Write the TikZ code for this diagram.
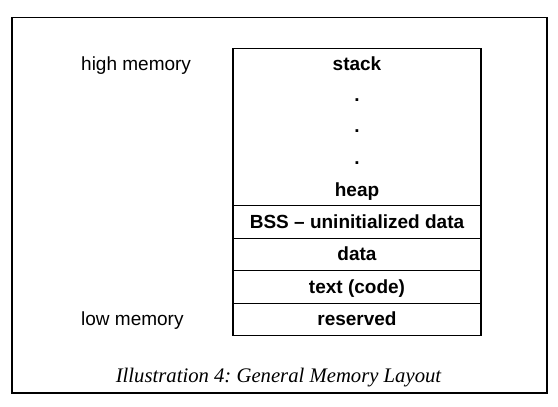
\documentclass[tikz,border=0pt]{standalone}
\usepackage{fontspec}
\setmainfont{Liberation Serif}
\setsansfont{Liberation Sans}
\frenchspacing
\begin{document}
\begin{tikzpicture}[x=1pt,y=-1pt,
  frame/.style={draw=black,line width=1.2pt},
  cell/.style={draw=black,line width=1.2pt,minimum width=248pt,inner sep=0pt,anchor=north},
  celltext/.style={anchor=base,font=\sffamily\bfseries\fontsize{19}{23}\selectfont,inner sep=0pt},
  side/.style={anchor=base west,font=\sffamily\fontsize{19}{23}\selectfont,inner sep=0pt},
  captext/.style={anchor=base,font=\itshape\fontsize{20.7}{25}\selectfont,inner sep=0pt}]
\useasboundingbox (0,0) rectangle (558,407);
\draw[frame] (12,17.5) rectangle (547,393);
% cells
\node[cell,minimum height=157.5pt] (top) at (357,47.5) {};
\node[cell,minimum height=32.5pt] (bss) at (357,205) {};
\node[cell,minimum height=32.5pt] (data) at (357,237.5) {};
\node[cell,minimum height=32.5pt] (text) at (357,270) {};
\node[cell,minimum height=32pt] (res) at (357,302.5) {};
% texts
\node[celltext] (stack) at (357,70.5) {stack};
\node[celltext] (d1) at (357,101) {.};
\node[celltext] (d2) at (357,132.5) {.};
\node[celltext] (d3) at (357,164) {.};
\node[celltext] (heap) at (357,196) {heap};
\node[celltext] (bsst) at (357,228) {BSS – uninitialized data};
\node[celltext] (datat) at (357,260.5) {data};
\node[celltext] (textt) at (357,293) {text (code)};
\node[celltext] (rest) at (357,325) {reserved};
\node[side] (high) at (81,70.5) {high memory};
\node[side] (low) at (81,325) {low memory};
\node[captext] (cap) at (278.5,382) {Illustration 4: General Memory Layout};
\end{tikzpicture}
\end{document}
